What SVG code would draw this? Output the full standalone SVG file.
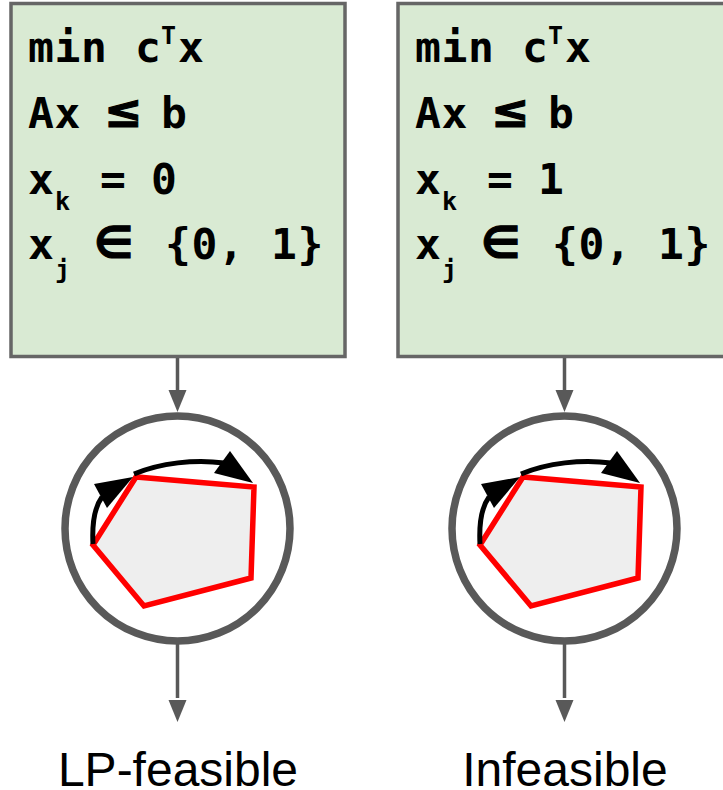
<svg xmlns="http://www.w3.org/2000/svg" width="723" height="790" viewBox="0 0 723 790">
<style>
.box{fill:#d9ead3;stroke:#666;stroke-width:3.500}
.code{font-family:"DejaVu Sans Mono",monospace;font-weight:bold;font-size:43px;letter-spacing:.6px;fill:#000}
.sym{font-family:"DejaVu Sans",sans-serif;font-weight:bold;fill:#000;stroke:#000;stroke-width:1}
.sub{font-family:"DejaVu Sans Mono",monospace;font-weight:bold;font-size:25px;fill:#000}
.label{font-family:"Liberation Sans",Arial,sans-serif;font-size:48px;fill:#000;text-anchor:middle}
.conn{stroke:#595959;stroke-width:3.500;fill:none}
.head{fill:#595959}
.ring{fill:#fff;stroke:#595959;stroke-width:7.500}
.poly{fill:#eee;stroke:#f00;stroke-width:5.500;stroke-linejoin:miter}
.arc{fill:none;stroke:#000;stroke-width:5}
</style>
<defs>
<g id="lpshape">
<circle class="ring" cx="177.5" cy="528.500" r="112.500"/>
<polygon class="poly" points="93,545 136,477 254,487 251,578 144,606"/>
<path class="arc" d="M93,544 C92,525 94,508 102,497"/>
<polygon points="94,484 133,477 107,508" fill="#000"/>
<path class="arc" d="M134,474 C160,463 195,459 224,463"/>
<polygon points="230,451 253,483 214,473" fill="#000"/>
</g>
</defs>
<g id="connectors">
<path class="conn" d="M177.5,358V392M177.5,644V698"/>
<polygon class="head" points="168.500,390 186.500,390 177.500,412"/>
<polygon class="head" points="168.500,700 186.500,700 177.500,722"/>
<path class="conn" d="M564.500,358V392M564.500,644V698"/>
<polygon class="head" points="555.500,390 573.500,390 564.500,412"/>
<polygon class="head" points="555.500,700 573.500,700 564.500,722"/>
</g>
<g id="left-box">
<rect class="box" x="11" y="3.500" width="334" height="353"/>
<text class="code" x="28" y="62">min</text>
<text class="code" x="135" y="62">c</text>
<text class="sub" x="161" y="44">T</text>
<text class="code" x="178" y="62">x</text>
<text class="code" x="28" y="128">Ax</text>
<text class="sym" x="104" y="127" font-size="46">≤</text>
<text class="code" x="161" y="128">b</text>
<text class="code" x="28" y="194">x</text>
<text class="sub" x="55" y="210">k</text>
<text class="code" x="100" y="194">=</text>
<text class="code" x="151" y="194">0</text>
<text class="code" x="28" y="259">x</text>
<text class="sub" x="55" y="278">j</text>
<text class="sym" x="94" y="258" font-size="44">∈</text>
<text class="code" x="165" y="259">{0,</text>
<text class="code" x="271" y="259">1}</text>
</g>
<g id="right-box">
<rect class="box" x="398" y="3.500" width="334" height="353"/>
<text class="code" x="415" y="62">min</text>
<text class="code" x="522" y="62">c</text>
<text class="sub" x="548" y="44">T</text>
<text class="code" x="565" y="62">x</text>
<text class="code" x="415" y="128">Ax</text>
<text class="sym" x="491" y="127" font-size="46">≤</text>
<text class="code" x="548" y="128">b</text>
<text class="code" x="415" y="194">x</text>
<text class="sub" x="442" y="210">k</text>
<text class="code" x="487" y="194">=</text>
<text class="code" x="538" y="194">1</text>
<text class="code" x="415" y="259">x</text>
<text class="sub" x="442" y="278">j</text>
<text class="sym" x="481" y="258" font-size="44">∈</text>
<text class="code" x="552" y="259">{0,</text>
<text class="code" x="658" y="259">1}</text>
</g>
<g id="left-lp"><use href="#lpshape"/></g>
<g id="right-lp"><use href="#lpshape" x="387"/></g>
<g id="left-label"><text class="label" x="178" y="786">LP-feasible</text></g>
<g id="right-label"><text class="label" x="565" y="786">Infeasible</text></g>
</svg>
